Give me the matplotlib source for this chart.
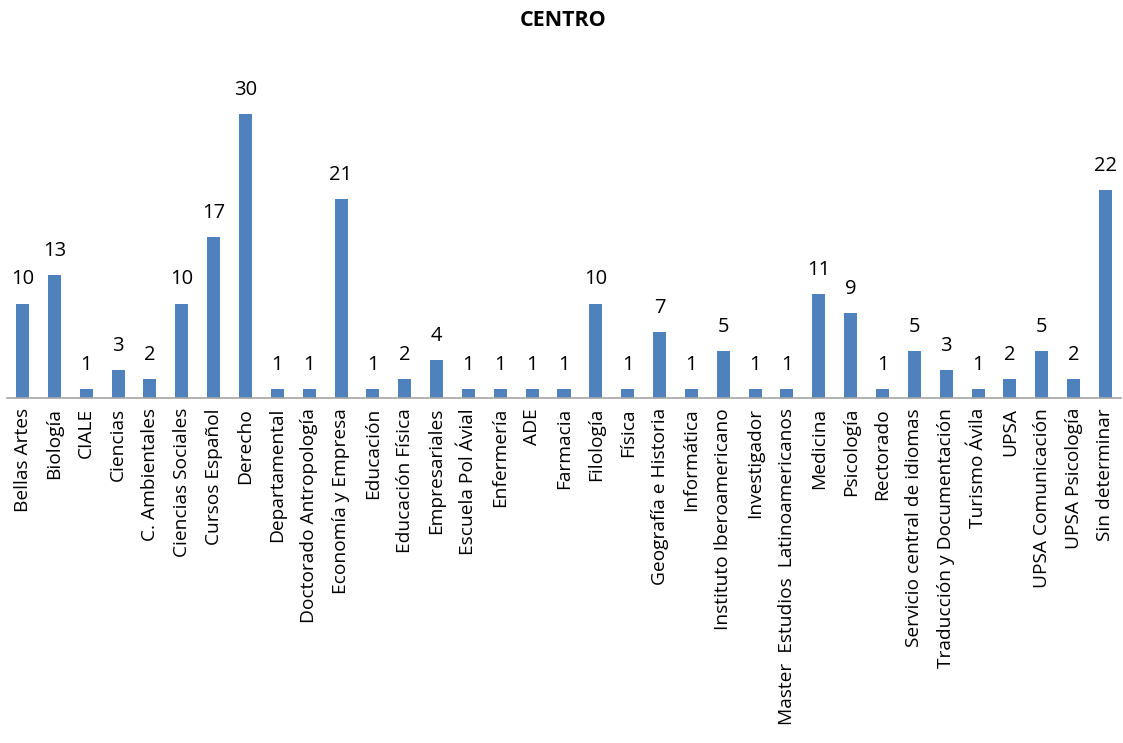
import numpy as np
import matplotlib
matplotlib.use("Agg")
import matplotlib.pyplot as plt

plt.rcParams['font.family'] = ['Open Sans', 'DejaVu Sans']

# === Data ===
centros = ["Bellas Artes", "Biología", "CIALE", "Ciencias", "C. Ambientales",
           "Ciencias Sociales", "Cursos Español", "Derecho", "Departamental",
           "Doctorado Antropología", "Economía y Empresa", "Educación",
           "Educación Física", "Empresariales", "Escuela Pol Ávial", "Enfermería",
           "ADE", "Farmacia", "Filología", "Física", "Geografía e Historia",
           "Informática", "Instituto Iberoamericano", "Investigador",
           "Master  Estudios  Latinoamericanos", "Medicina", "Psicología",
           "Rectorado", "Servicio central de idiomas", "Traducción y Documentación",
           "Turismo Ávila", "UPSA", "UPSA Comunicación", "UPSA Psicología",
           "Sin determinar"]
valores = [10, 13, 1, 3, 2, 10, 17, 30, 1, 1, 21, 1, 2, 4, 1, 1, 1, 1, 10, 1,
           7, 1, 5, 1, 1, 11, 9, 1, 5, 3, 1, 2, 5, 2, 22]

# === Plot ===
fig = plt.figure(figsize=(11.23, 7.43), dpi=100)
ax = fig.add_axes([6.6 / 1123, 344.7 / 743, 1114.8 / 1123, 338 / 743])

x = np.arange(len(centros))
ax.bar(x, valores, width=0.41, color='#4F81BD', zorder=2)

# value labels above each bar
for xi, v in zip(x, valores):
    ax.annotate(str(v), (xi, v), xytext=(0, 17.5), textcoords='offset points',
                ha='center', va='center', fontsize=14.5, color='black')

ax.set_xlim(-0.5, len(centros) - 0.5)
ax.set_ylim(0, 338 / 9.47)
ax.set_xticks(x)
ax.set_xticklabels(centros, rotation=90, fontsize=13.8)
ax.tick_params(axis='x', length=0, pad=7)
ax.set_yticks([])

for s in ['top', 'right', 'left']:
    ax.spines[s].set_visible(False)
ax.spines['bottom'].set_color('#A6A6A6')
ax.spines['bottom'].set_linewidth(1.2)

fig.text(563 / 1123, 1 - 20 / 743, "CENTRO", ha='center', va='center',
         fontsize=15.5, fontweight='bold')

plt.savefig("out.png", dpi=100)
